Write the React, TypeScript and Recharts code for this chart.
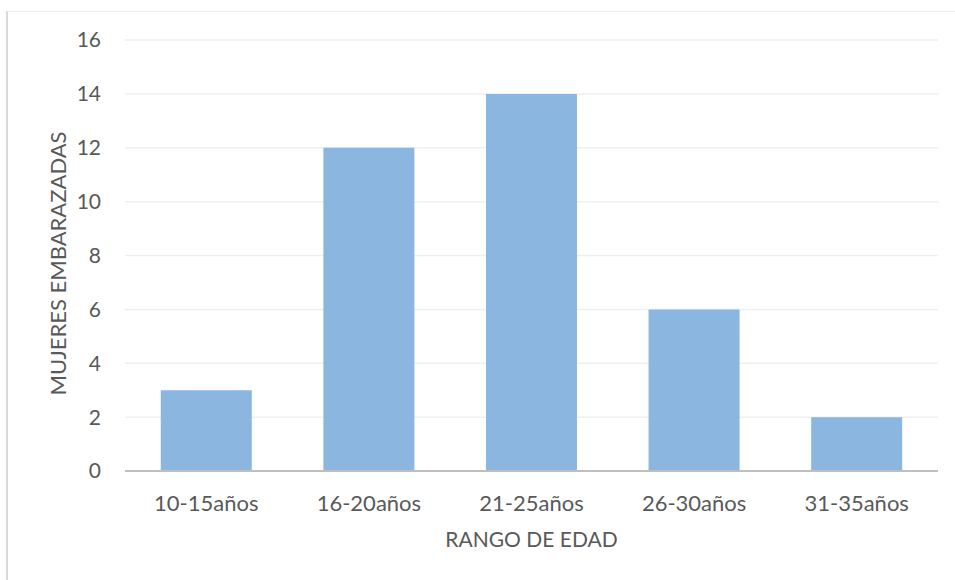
import React from 'react';
import { BarChart, Bar, XAxis, YAxis, CartesianGrid, Label } from 'recharts';

const categories = ['10-15años', '16-20años', '21-25años', '26-30años', '31-35años'];
const values = [3, 12, 14, 6, 2];
const yTicks = [0, 2, 4, 6, 8, 10, 12, 14, 16];

const chartData = categories.map((range, i) => ({ range, value: values[i] }));

const FONT = 'Lato, "Open Sans", sans-serif';
const TEXT_COLOR = '#595959';

const YAxisTitle = ({ viewBox }: any) => {
  const x = viewBox.x + 57;
  const y = viewBox.y + viewBox.height / 2 + 8;
  return (
    <text x={x} y={y} transform={`rotate(-90, ${x}, ${y})`} textAnchor="middle" dominantBaseline="central"
      fill={TEXT_COLOR} fontSize={22} fontFamily={FONT}>
      MUJERES EMBARAZADAS
    </text>
  );
};

const XAxisTitle = ({ viewBox }: any) => {
  const x = viewBox.x + viewBox.width / 2;
  return (
    <text x={x} y={547} textAnchor="middle" fill={TEXT_COLOR} fontSize={21} fontFamily={FONT}>
      RANGO DE EDAD
    </text>
  );
};

const App: React.FC = () => {
  return (
    <div style={{ position: 'absolute', left: 0, top: 0, width: 955, height: 580, background: '#fff' }}>
      <div style={{ position: 'absolute', left: 6, top: 11, right: 0, bottom: 0, borderLeft: '2px solid #d9d9d9', borderTop: '1px solid #ececec' }} />
      <BarChart
        width={955}
        height={580}
        data={chartData}
        margin={{ top: 40, right: 17, left: 0, bottom: 0 }}
        barCategoryGap="22%"
        style={{ position: 'absolute', left: 0, top: 0 }}
      >
        <CartesianGrid vertical={false} stroke="#efefef" strokeWidth={1.5} />
        <XAxis
          dataKey="range"
          height={109}
          tickLine={false}
          tickSize={0}
          tickMargin={24}
          axisLine={{ stroke: '#bfbfbf', strokeWidth: 2 }}
          tick={{ fill: TEXT_COLOR, fontSize: 22, fontFamily: FONT }}
        >
          <Label content={<XAxisTitle />} />
        </XAxis>
        <YAxis
          width={125}
          domain={[0, 16]}
          ticks={yTicks}
          interval={0}
          axisLine={false}
          tickLine={false}
          tickSize={0}
          tickMargin={24}
          tick={{ fill: TEXT_COLOR, fontSize: 21, fontFamily: FONT }}
        >
          <Label content={<YAxisTitle />} />
        </YAxis>
        <Bar dataKey="value" fill="#8ab6e0" isAnimationActive={false} />
      </BarChart>
    </div>
  );
};

export default App;
